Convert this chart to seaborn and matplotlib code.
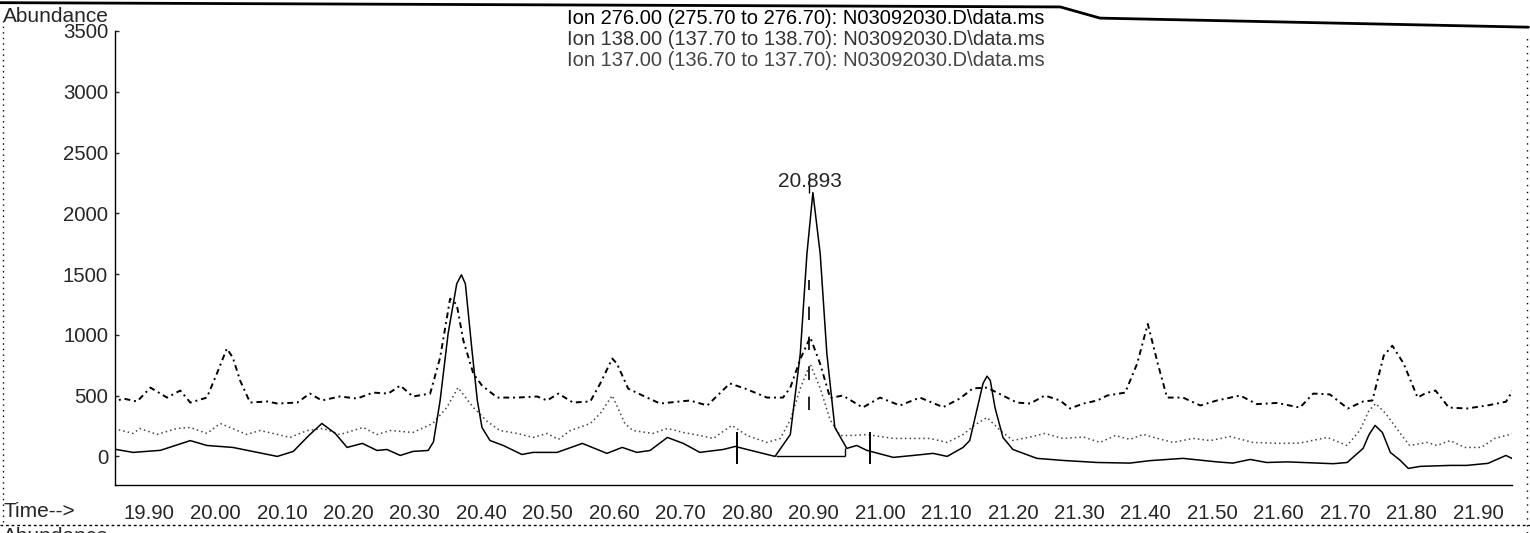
import numpy as np
import pandas as pd
import matplotlib
matplotlib.use('Agg')
from matplotlib import pyplot as plt
from matplotlib.lines import Line2D
import seaborn as sns

# Ion 276 (solid trace)
t_276 = [19.841, 19.876, 19.917, 19.962, 19.987, 20.026, 20.093, 20.117, 20.140, 20.160,
         20.180, 20.198, 20.221, 20.243, 20.258, 20.278, 20.297, 20.320, 20.328, 20.338,
         20.350, 20.363, 20.370, 20.376, 20.386, 20.394, 20.401, 20.413, 20.433, 20.461,
         20.478, 20.514, 20.552, 20.589, 20.612, 20.634, 20.654, 20.680, 20.704, 20.729,
         20.740, 20.764, 20.782, 20.800, 20.842, 20.865, 20.880, 20.890, 20.899, 20.910,
         20.920, 20.932, 20.950, 20.965, 20.980, 21.020, 21.050, 21.080, 21.101, 21.125,
         21.135, 21.148, 21.155, 21.161, 21.166, 21.173, 21.181, 21.185, 21.200, 21.236,
         21.275, 21.327, 21.376, 21.406, 21.456, 21.507, 21.531, 21.557, 21.582, 21.613,
         21.682, 21.703, 21.727, 21.736, 21.745, 21.756, 21.768, 21.783, 21.795, 21.813,
         21.858, 21.883, 21.915, 21.942, 21.954]
v_276 = [66, 33, 50, 130, 90, 74, 0, 41, 170, 271,
         190, 74, 107, 49, 57, 8, 41, 49, 120, 460,
         1010, 1420, 1494, 1420, 870, 460, 238, 131, 90, 16,
         33, 33, 107, 25, 74, 33, 49, 156, 107, 33,
         41, 57, 82, 57, 0, 180, 845, 1666, 2170, 1666,
         845, 238, 66, 90, 50, -8, 8, 25, 0, 74,
         131, 435, 600, 660, 624, 402, 238, 156, 57, -16,
         -33, -50, -55, -35, -16, -45, -55, -25, -50, -45,
         -60, -50, 66, 180, 255, 197, 33, -33, -99, -82,
         -74, -74, -57, 8, -25]

# Ion 138 (fine dotted trace)
t_138 = [19.841, 19.876, 19.886, 19.912, 19.942, 19.962, 19.987, 20.007, 20.047, 20.067,
         20.093, 20.112, 20.138, 20.162, 20.187, 20.222, 20.243, 20.263, 20.297, 20.327,
         20.348, 20.365, 20.388, 20.409, 20.428, 20.454, 20.478, 20.499, 20.516, 20.534,
         20.564, 20.579, 20.597, 20.616, 20.628, 20.658, 20.680, 20.704, 20.729, 20.749,
         20.777, 20.800, 20.830, 20.850, 20.865, 20.880, 20.895, 20.910, 20.925, 20.940,
         20.959, 20.980, 21.020, 21.075, 21.101, 21.125, 21.143, 21.161, 21.181, 21.200,
         21.230, 21.248, 21.275, 21.306, 21.331, 21.354, 21.376, 21.396, 21.416, 21.441,
         21.471, 21.497, 21.527, 21.561, 21.602, 21.632, 21.673, 21.703, 21.722, 21.736,
         21.746, 21.761, 21.783, 21.797, 21.823, 21.838, 21.858, 21.880, 21.905, 21.925,
         21.954]
v_138 = [238, 189, 230, 181, 230, 238, 189, 271, 181, 213,
         181, 156, 213, 230, 180, 238, 180, 213, 197, 271,
         402, 566, 402, 287, 213, 189, 156, 189, 140, 213,
         271, 353, 501, 271, 213, 189, 230, 197, 172, 148,
         255, 172, 115, 148, 300, 560, 760, 560, 300, 172,
         172, 180, 148, 148, 115, 180, 260, 320, 213, 131,
         164, 189, 148, 160, 115, 172, 140, 181, 150, 115,
         148, 130, 164, 115, 107, 110, 156, 90, 213, 378,
         435, 353, 189, 90, 115, 90, 130, 74, 74, 148,
         189]

# Ion 137 (dash-dot trace)
t_137 = [19.841, 19.861, 19.882, 19.902, 19.927, 19.947, 19.962, 19.987, 20.002, 20.017,
         20.026, 20.037, 20.052, 20.078, 20.093, 20.123, 20.142, 20.160, 20.187, 20.213,
         20.237, 20.260, 20.278, 20.297, 20.323, 20.338, 20.353, 20.363, 20.373, 20.388,
         20.401, 20.424, 20.454, 20.484, 20.499, 20.516, 20.538, 20.564, 20.579, 20.597,
         20.604, 20.621, 20.643, 20.669, 20.695, 20.714, 20.740, 20.774, 20.797, 20.830,
         20.854, 20.865, 20.880, 20.895, 20.910, 20.925, 20.944, 20.974, 21.000, 21.030,
         21.060, 21.095, 21.120, 21.140, 21.161, 21.191, 21.206, 21.226, 21.248, 21.271,
         21.286, 21.306, 21.327, 21.342, 21.369, 21.387, 21.403, 21.418, 21.432, 21.456,
         21.482, 21.507, 21.542, 21.567, 21.597, 21.632, 21.652, 21.677, 21.704, 21.727,
         21.741, 21.758, 21.771, 21.788, 21.809, 21.821, 21.836, 21.856, 21.883, 21.915,
         21.942, 21.954]
v_137 = [435, 476, 452, 566, 484, 542, 443, 484, 681, 887,
         813, 624, 443, 452, 435, 443, 517, 460, 493, 476,
         525, 517, 583, 493, 517, 813, 1297, 1250, 952, 681,
         583, 484, 484, 493, 460, 517, 443, 452, 600, 805,
         764, 558, 500, 435, 450, 460, 419, 600, 558, 484,
         484, 566, 800, 980, 760, 480, 501, 402, 484, 419,
         484, 405, 476, 560, 566, 484, 443, 435, 501, 460,
         394, 435, 460, 501, 525, 764, 1090, 764, 484, 484,
         419, 460, 501, 430, 440, 402, 517, 510, 394, 452,
         460, 829, 911, 764, 484, 520, 542, 402, 394, 420,
         450, 558]

x_ticks = [19.90, 20.00, 20.10, 20.20, 20.30, 20.40, 20.50, 20.60, 20.70, 20.80,
           20.90, 21.00, 21.10, 21.20, 21.30, 21.40, 21.50, 21.60, 21.70, 21.80, 21.90]
y_ticks = [0, 500, 1000, 1500, 2000, 2500, 3000, 3500]
legend_lines = ['Ion 276.00 (275.70 to 276.70): N03092030.D\\data.ms',
                'Ion 138.00 (137.70 to 138.70): N03092030.D\\data.ms',
                'Ion 137.00 (136.70 to 137.70): N03092030.D\\data.ms']
peak_rt = 20.893

sns.set_style('white')
plt.rcParams['font.family'] = ['Liberation Sans', 'DejaVu Sans']

fig = plt.figure(figsize=(15.3, 5.33), dpi=100)
ax = fig.add_axes([0.0752, 0.0901, 0.913, 0.8518])

df276 = pd.DataFrame({'t': t_276, 'v': v_276})
df138 = pd.DataFrame({'t': t_138, 'v': v_138})
df137 = pd.DataFrame({'t': t_137, 'v': v_137})

sns.lineplot(data=df137, x='t', y='v', ax=ax, color='black', lw=1.4,
             linestyle=(0, (3, 2, 1, 2)), estimator=None, sort=False)
sns.lineplot(data=df138, x='t', y='v', ax=ax, color='#444444', lw=1.1,
             linestyle=(0, (1, 2)), estimator=None, sort=False)
sns.lineplot(data=df276, x='t', y='v', ax=ax, color='black', lw=1.1,
             estimator=None, sort=False)

# integration marks around the main peak
ax.hlines(0, 20.844, 20.947, color='black', lw=1)
ax.vlines(20.947, 0, 66, color='black', lw=1)
ax.vlines([20.785, 20.985], -66, 197, color='black', lw=1.4)
ax.vlines(peak_rt, 380, 1450, color='black', lw=1.2, linestyle=(0, (8, 10)))
ax.vlines(peak_rt, 2170, 2290, color='black', lw=1)
ax.text(peak_rt + 0.002, 2185, '20.893', ha='center', va='bottom', fontsize=15)

ax.set_xlim(19.8488, 21.951)
ax.set_ylim(-235, 3500)
ax.set_xticks(x_ticks)
ax.set_xticklabels([f'{v:.2f}' for v in x_ticks], fontsize=14.7)
ax.set_xticks(np.arange(19.86, 21.95, 0.02), minor=True)
ax.set_yticks(y_ticks)
ax.set_yticklabels([str(v) for v in y_ticks], fontsize=14.7)
ax.tick_params(axis='x', which='major', direction='out', length=8, width=1, pad=6)
ax.tick_params(axis='x', which='minor', direction='out', length=4, width=1)
ax.tick_params(axis='y', which='major', direction='in', length=3, width=1, pad=5, left=True)
ax.set_xlabel('')
ax.set_ylabel('')
for side in ['top', 'right']:
    ax.spines[side].set_visible(False)
for side in ['left', 'bottom']:
    ax.spines[side].set_linewidth(1)
    ax.spines[side].set_color('black')

# header texts
fig.text(0.002, 0.987, 'Abundance', fontsize=15, ha='left', va='top')
fig.text(0.002, 0.04, 'Time-->', fontsize=15, ha='left', va='center')
fig.text(0.002, 0.012, 'Abundance', fontsize=15, ha='left', va='top')
for i, (txt, col) in enumerate(zip(legend_lines, ['black', '#333333', '#444444'])):
    fig.text(0.3705, 0.966 - i * 0.0395, txt, fontsize=14.5, ha='left', va='center', color=col)

# page frame of the printout
fig.add_artist(Line2D([0, 0.693, 0.719, 0.999], [0.995, 0.987, 0.966, 0.949],
                      transform=fig.transFigure, color='black', lw=2))
fig.add_artist(Line2D([0, 1], [0.015, 0.015], transform=fig.transFigure, color='black', lw=1,
                      linestyle=(0, (2, 2))))
fig.add_artist(Line2D([0.002, 0.002], [0.02, 0.96], transform=fig.transFigure, color='black', lw=1,
                      linestyle=(0, (1, 3))))
fig.add_artist(Line2D([0.998, 0.998], [0.0, 0.93], transform=fig.transFigure, color='black', lw=1,
                      linestyle=(0, (1, 4))))

fig.savefig('out.png', dpi=100, facecolor='white')
